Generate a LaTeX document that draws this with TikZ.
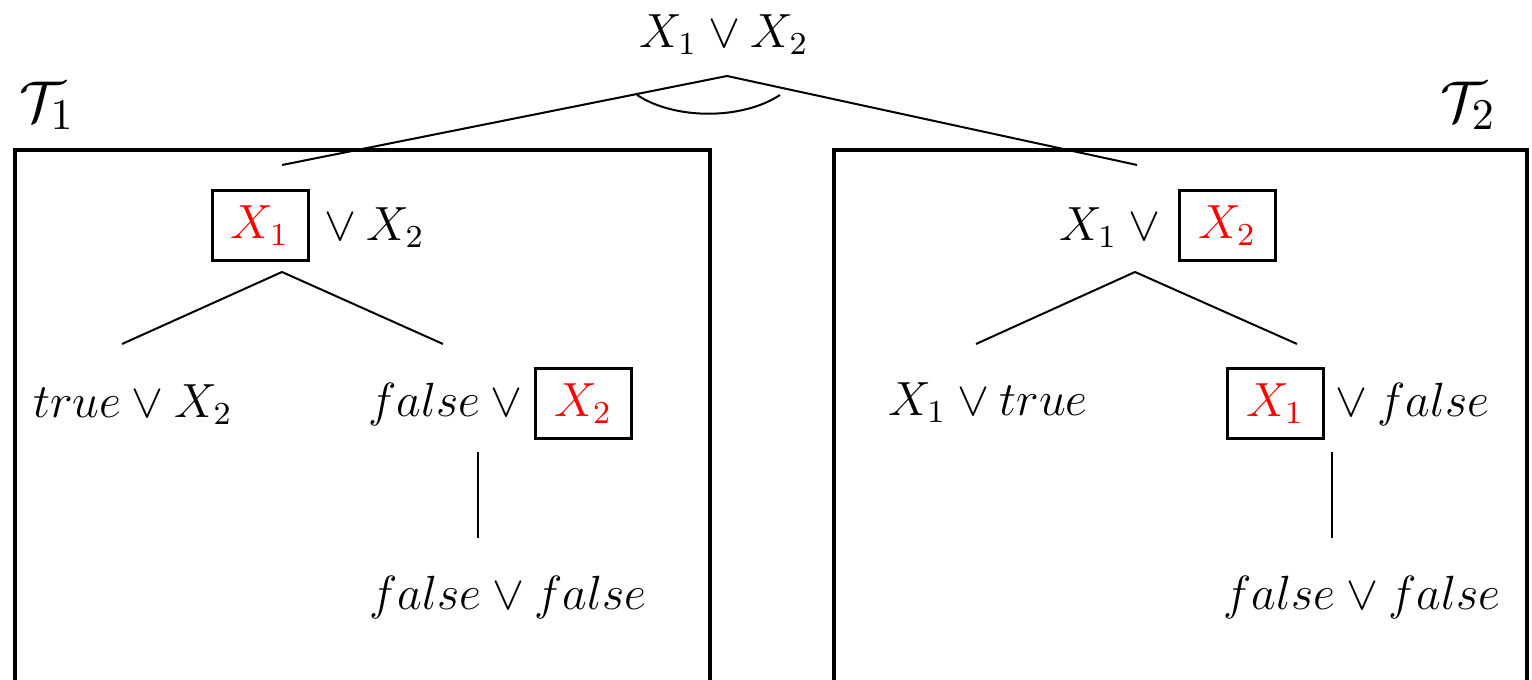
\documentclass[tikz,border=0pt]{standalone}
\begin{document}
\begin{tikzpicture}[x=0.25pt,y=-0.25pt,
  every node/.style={font=\fontsize{11.9}{14}\selectfont, inner sep=0pt},
  edge/.style={line width=0.5pt},
  frame/.style={line width=1pt},
  redbox/.style={draw, line width=0.75pt, minimum width=24pt, minimum height=17.5pt, text=red},
  bigl/.style={font=\fontsize{15}{18}\selectfont}]
\useasboundingbox (0,0) rectangle (1532,680);
% root
\node (root) at (724,35) {$X_1 \vee X_2$};
\coordinate (ra) at (727,76);
\coordinate (la) at (282,165);
\coordinate (rb) at (1137,165);
\draw[edge] (ra) -- (la);
\draw[edge] (ra) -- (rb);
\coordinate (arcL) at (637,95);
\coordinate (arcR) at (780,95);
\draw[edge] (arcL) .. controls (675,120) and (742,120) .. (arcR);
% frames
\draw[frame] (15,680) |- (710,150) -- (710,680);
\draw[frame] (834,680) |- (1527,150) -- (1527,680);
\node[bigl] (t1) at (47,106) {$\mathcal{T}_1$};
\node[bigl] (t2) at (1468,106) {$\mathcal{T}_2$};
% left tree
\node[redbox] (l1b) at (260,226) {$X_1$};
\node (l1t) at (369,228) {${}\vee X_2$};
\coordinate (l1a) at (282,272);
\coordinate (l2l) at (122,344);
\coordinate (l2r) at (443,344);
\draw[edge] (l1a) -- (l2l);
\draw[edge] (l1a) -- (l2r);
\node (l2a) at (133,405) {$true \vee X_2$};
\node (l2bt) at (451,405) {$false \vee{}$};
\node[redbox] (l2bb) at (583,404) {$X_2$};
\coordinate (l3top) at (478,452);
\coordinate (l3bot) at (478,538);
\draw[edge] (l3top) -- (l3bot);
\node (l3) at (508,598) {$false \vee false$};
% right tree
\node (r1t) at (1115,228) {$X_1 \vee{}$};
\node[redbox] (r1b) at (1227,226) {$X_2$};
\coordinate (r1a) at (1135,272);
\coordinate (r2l) at (976,344);
\coordinate (r2r) at (1297,344);
\draw[edge] (r1a) -- (r2l);
\draw[edge] (r1a) -- (r2r);
\node (r2a) at (988,403) {$X_1 \vee true$};
\node[redbox] (r2bb) at (1275,404) {$X_1$};
\node (r2bt) at (1407,405) {${}\vee false$};
\coordinate (r3top) at (1332,452);
\coordinate (r3bot) at (1332,538);
\draw[edge] (r3top) -- (r3bot);
\node (r3) at (1362,598) {$false \vee false$};
\end{tikzpicture}
\end{document}
